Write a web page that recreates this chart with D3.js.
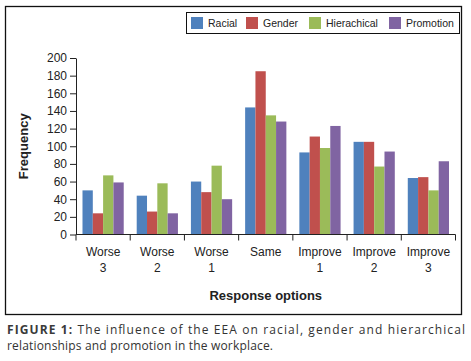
<!DOCTYPE html>
<html><head><meta charset="utf-8">
<script src="https://cdn.jsdelivr.net/npm/d3@7"></script>
<style>
html,body{margin:0;padding:0;background:#fff;}
svg{display:block;font-family:"Liberation Sans",Arial,sans-serif;}
</style></head>
<body>
<svg id="chart" width="471" height="361"></svg>
<script>
const categories = ["Worse 3","Worse 2","Worse 1","Same","Improve 1","Improve 2","Improve 3"];
const categoryLines = [["Worse","3"],["Worse","2"],["Worse","1"],["Same"],["Improve","1"],["Improve","2"],["Improve","3"]];
const seriesNames = ["Racial","Gender","Hierachical","Promotion"];
const racial      = [50, 44, 60, 144, 93, 105, 64];
const gender      = [24, 26, 48, 185, 111, 105, 65];
const hierachical = [67, 58, 78, 135, 98, 77, 50];
const promotion   = [59, 24, 40, 128, 123, 94, 83];
const yTicks = [0,20,40,60,80,100,120,140,160,180,200];
const colors = ["#4F81BD","#C0504D","#9BBB59","#8064A2"];
const seriesValues = [racial, gender, hierachical, promotion];

(function(){
const svg = d3.select("#chart");
const pL = 76, pR = 455.5, pT = 58, pB = 234.5;

// chart border
svg.append("rect").attr("x",5.5).attr("y",6.5).attr("width",456).attr("height",308)
  .attr("fill","none").attr("stroke","#111").attr("stroke-width",1.3);

const x0 = d3.scaleBand().domain(categories).range([pL,pR]).padding(0);
const x1 = d3.scaleBand().domain(seriesNames).range([0,x0.bandwidth()]).paddingInner(0).paddingOuter(0.63);
const y = d3.scaleLinear().domain([0,200]).range([pB,pT]);

// bars
const groups = svg.append("g").selectAll("g").data(categories).join("g")
  .attr("transform", d => `translate(${x0(d)},0)`);
groups.selectAll("rect").data((d,i) => seriesNames.map((s,j) => ({s, v: seriesValues[j][i], c: colors[j]})))
  .join("rect")
  .attr("x", d => x1(d.s)).attr("width", x1.bandwidth())
  .attr("y", d => y(d.v)).attr("height", d => y(0) - y(d.v))
  .attr("fill", d => d.c);

// y axis
const yAxis = svg.append("g").attr("transform",`translate(${pL},0)`)
  .call(d3.axisLeft(y).tickValues(yTicks).tickSize(6).tickPadding(3).tickSizeOuter(0));
yAxis.select(".domain").attr("stroke","#222");
yAxis.selectAll(".tick line").attr("stroke","#222");
yAxis.selectAll(".tick text").attr("font-size","12px").attr("fill","#222")
  .attr("font-family","'Liberation Sans',Arial,sans-serif");

// x axis
const xAxis = svg.append("g").attr("transform",`translate(0,${pB})`);
xAxis.append("line").attr("x1",pL).attr("x2",pR).attr("stroke","#222");
const boundaries = categories.map(c => x0(c)).concat([pR]);
xAxis.selectAll("line.tk").data(boundaries).join("line").attr("class","tk")
  .attr("x1",d=>d).attr("x2",d=>d).attr("y1",0).attr("y2",6).attr("stroke","#222");
const xl = svg.append("g").selectAll("text").data(categories).join("text")
  .attr("x", d => x0(d) + x0.bandwidth()/2)
  .attr("y", 256)
  .attr("text-anchor","middle").attr("font-size","12px").attr("fill","#222");
xl.each(function(d,i){
  const t = d3.select(this);
  categoryLines[i].forEach((ln,k) => {
    t.append("tspan").attr("x", x0(d) + x0.bandwidth()/2).attr("dy", k===0?0:16).text(ln);
  });
});

// axis titles
svg.append("text").attr("x",(pL+pR)/2).attr("y",300).attr("text-anchor","middle")
  .attr("font-size","13px").attr("font-weight","bold").attr("fill","#222").text("Response options");
svg.append("text").attr("transform",`translate(28,${(pT+pB)/2}) rotate(-90)`)
  .attr("text-anchor","middle").attr("font-size","13px").attr("font-weight","bold").attr("fill","#222").text("Frequency");

// legend
const lg = svg.append("g");
lg.append("rect").attr("x",186.5).attr("y",12.5).attr("width",273).attr("height",21)
  .attr("fill","#fff").attr("stroke","#111").attr("stroke-width",1);
const legX = [191, 246, 309, 389];
seriesNames.forEach((s,i) => {
  lg.append("rect").attr("x",legX[i]).attr("y",17).attr("width",12).attr("height",12).attr("fill",colors[i]);
  lg.append("text").attr("x",legX[i]+17).attr("y",27).attr("font-size","10.5px").attr("fill","#222").text(s);
});

// caption
const capFont = "'Open Sans','Liberation Sans',sans-serif";
const cap1 = svg.append("text").attr("x",7).attr("y",334).attr("font-size","12px").attr("fill","#333")
  .attr("font-family",capFont)
  .attr("textLength",458).attr("lengthAdjust","spacing");
cap1.append("tspan").attr("font-weight","bold").attr("fill","#3a3a3a").text("FIGURE 1: ");
cap1.append("tspan").text("The influence of the EEA on racial, gender and hierarchical");
svg.append("text").attr("x",7).attr("y",350).attr("font-size","12px").attr("fill","#333")
  .attr("font-family",capFont)
  .attr("textLength",266).attr("lengthAdjust","spacing")
  .text("relationships and promotion in the workplace.");
})();
</script>
</body></html>
